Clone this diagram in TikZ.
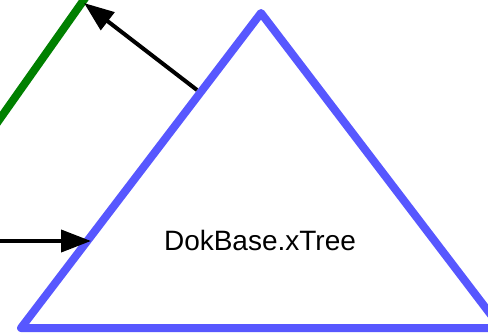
\documentclass[tikz,border=0pt]{standalone}
\usepackage{fontspec}
\setmainfont{Liberation Sans}
\usetikzlibrary{arrows.meta}
\definecolor{treeblue}{RGB}{87,87,255}
\definecolor{treegreen}{RGB}{0,128,0}
\newcommand*{\mylabelstyle}{\fontsize{28}{32}\selectfont}
\tikzset{
  treeside/.style = {draw = treeblue, line width = 8pt, line join = round},
  otherside/.style = {draw = treegreen, line width = 8pt},
  link/.style = {draw = black, line width = 4pt,
    -{Triangle[length = 30pt, width = 22pt]}}
}

\begin{document}
\begin{tikzpicture}[x = 1pt, y = -1pt]
  \useasboundingbox (0,0) rectangle (488,335);
  \clip (0,0) rectangle (488,335);
  % the tree
  \coordinate (apex) at (261,13);
  \coordinate (left) at (21,328);
  \coordinate (right) at (501,328);
  \draw[treeside] (apex) -- (left) -- (right) -- cycle;
  \node[font = \mylabelstyle] (name) at (260,240) {DokBase.xTree};
  % neighbour tree, only partly seen
  \coordinate (gtop) at (88,-6);
  \coordinate (gbot) at (-8,130);
  \draw[otherside] (gbot) -- (gtop);
  % links
  \coordinate (from) at (197,90);
  \coordinate (to) at (84,3);
  \draw[link] (from) -- (to);
  \coordinate (in) at (-5,241);
  \coordinate (hit) at (91,241);
  \draw[link] (in) -- (hit);
\end{tikzpicture}
\end{document}
